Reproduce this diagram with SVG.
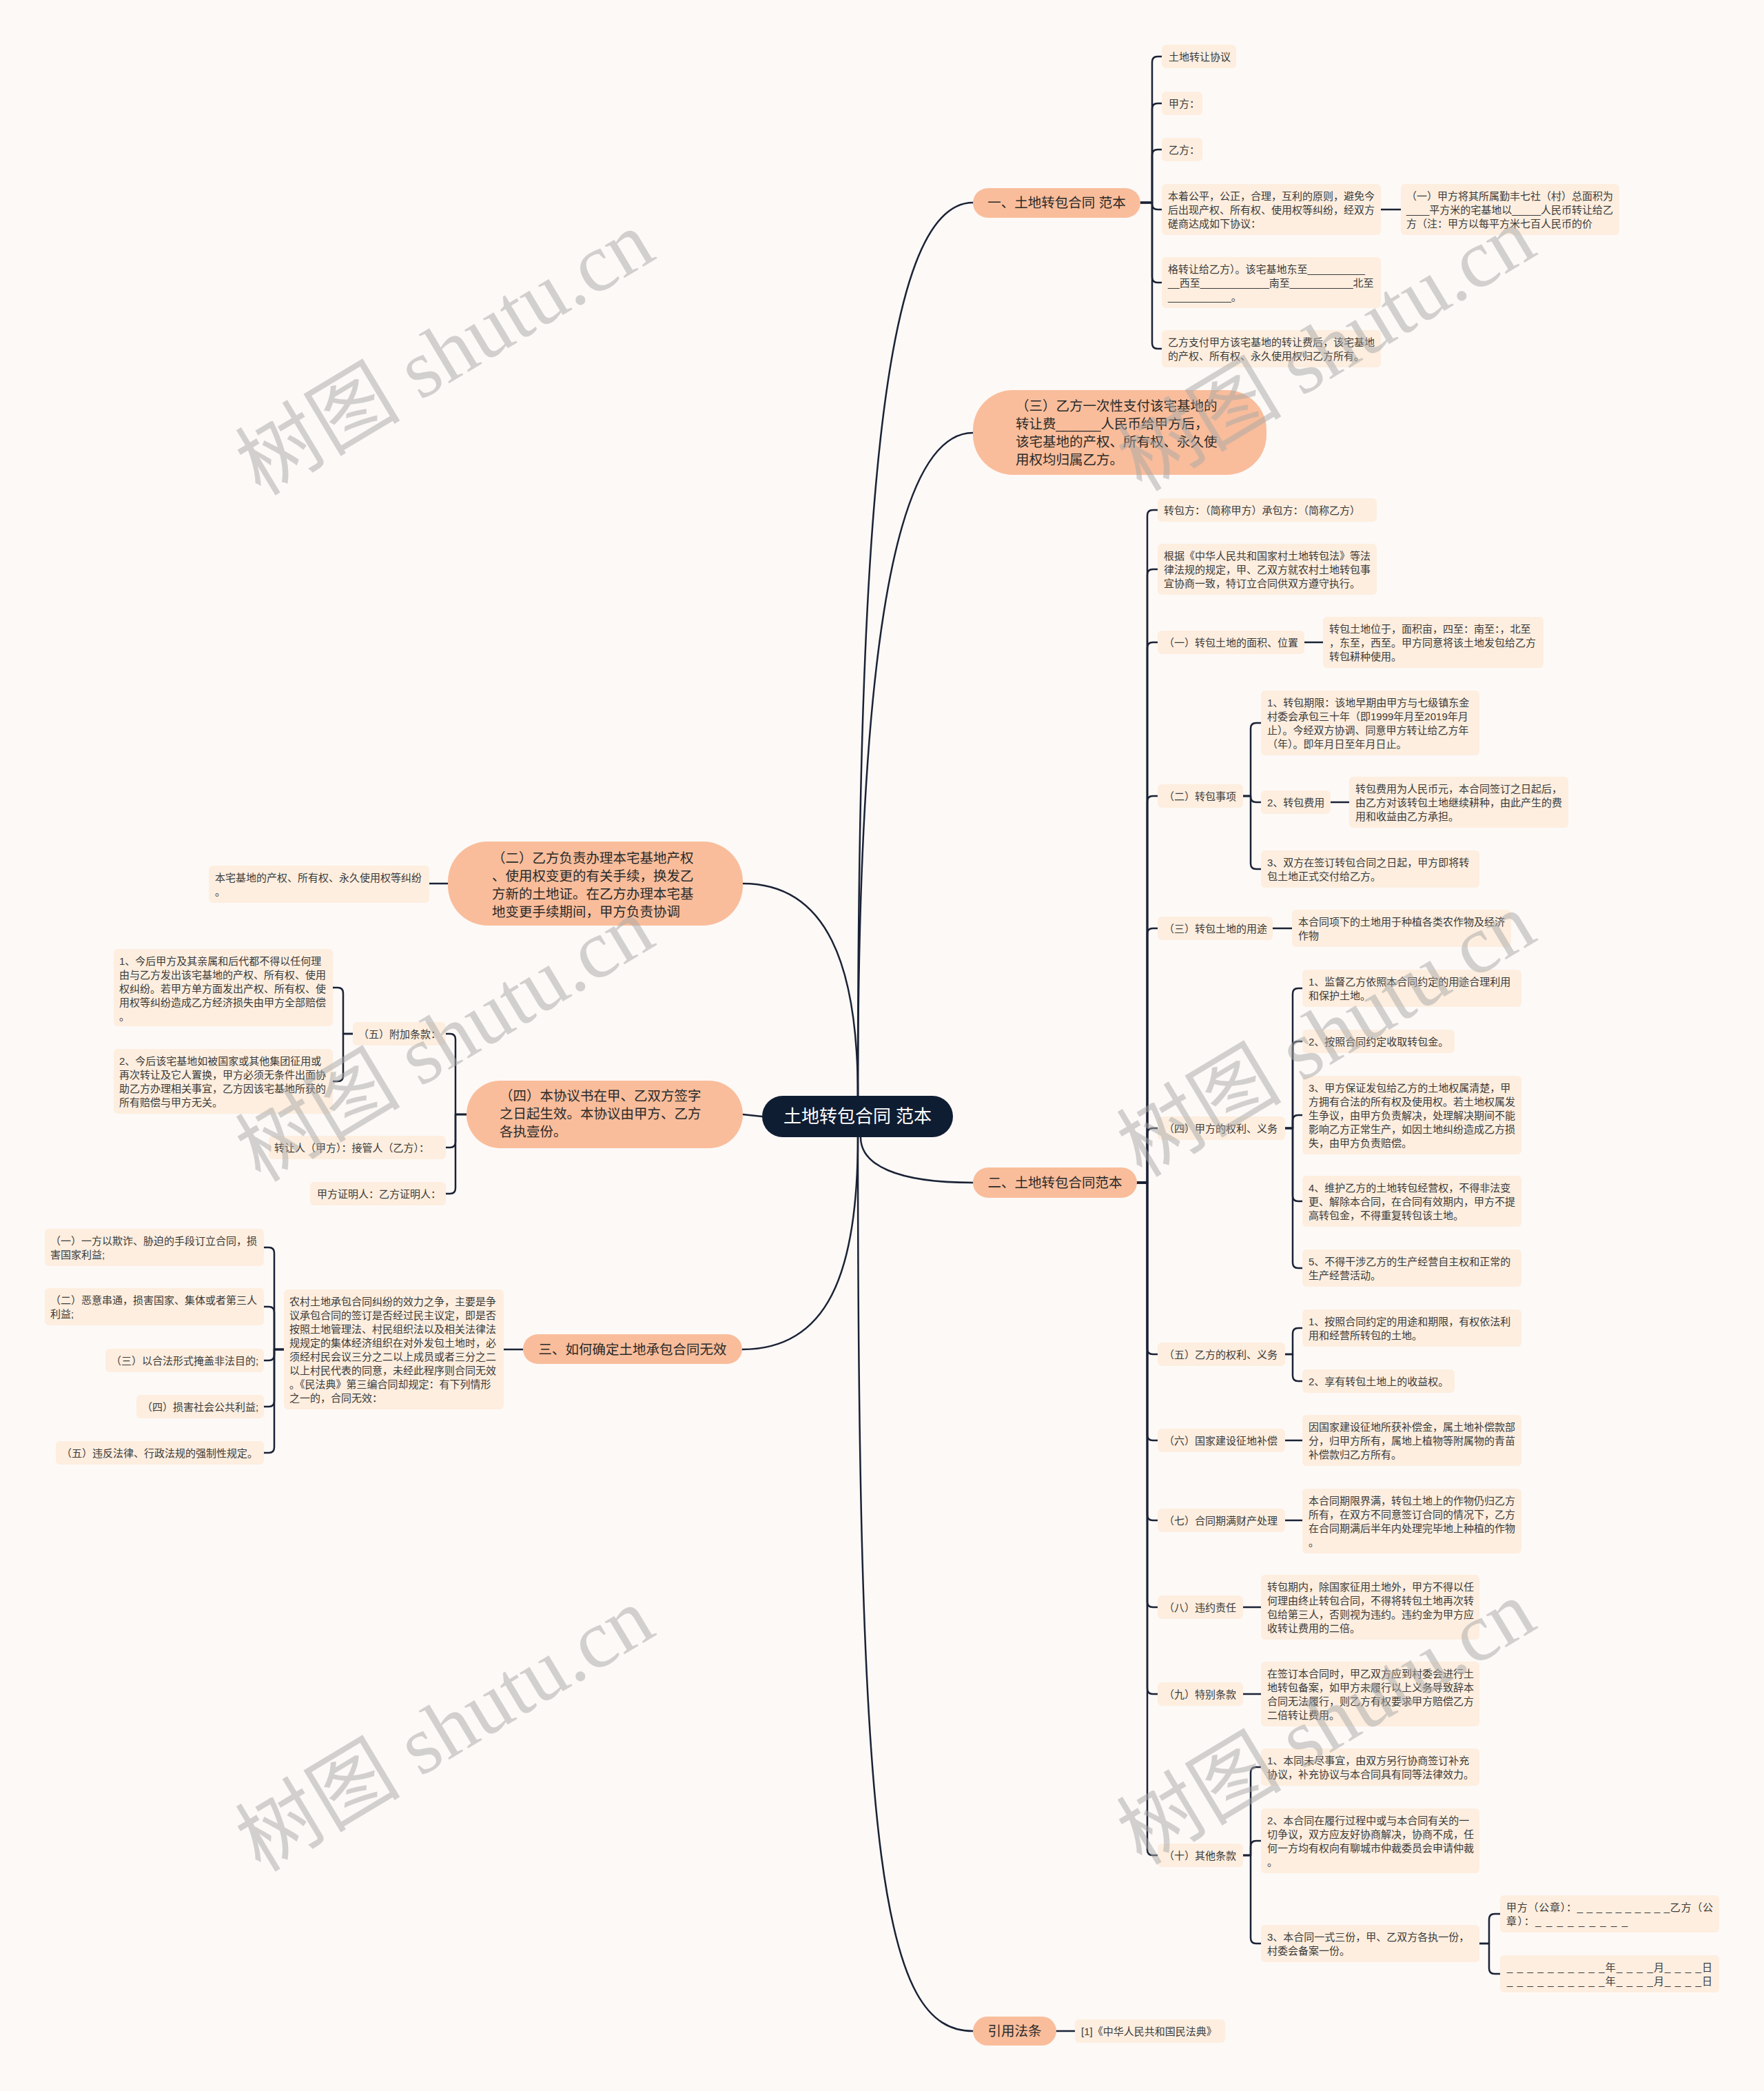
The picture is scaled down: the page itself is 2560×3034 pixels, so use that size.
<svg xmlns="http://www.w3.org/2000/svg" width="2560" height="3034" viewBox="0 0 2560 3034">
<defs>
<style>
.bg{fill:#fdf9f7}
.b2{fill:#fdeedf}
.b1{fill:#f9bd9b}
.b0{fill:#0f1d33}
.t2{font-family:"Liberation Sans","Noto Sans CJK SC",sans-serif;font-size:15px;fill:#3a3a3a}
.t1{font-family:"Liberation Sans","Noto Sans CJK SC",sans-serif;font-size:19.5px;fill:#2a2a2a}
.t0{font-family:"Liberation Sans","Noto Sans CJK SC",sans-serif;font-size:26px;fill:#ffffff}
.c{fill:none;stroke:#1a2235;stroke-width:2.5;stroke-linecap:round;stroke-linejoin:round}
.wm{font-family:"Liberation Serif","Noto Sans CJK SC",serif;font-size:120px;fill:#a8a8a8;fill-opacity:0.5}
</style>
</defs>
<rect class="bg" x="0" y="0" width="2560" height="3034"/>

<g id="connectors">
<!-- root to level 1 -->
<path class="c" d="M1245 1590 C1245 774 1277 294 1412 294"/>
<path class="c" d="M1245 1590 C1245 1000 1290 628 1412 628"/>
<path class="c" d="M1245 1590 C1245 1400 1200 1282 1078 1282"/>
<path class="c" d="M1106 1620 L1078 1617"/>
<path class="c" d="M1245 1650 C1245 1850 1200 1958 1077 1958"/>
<path class="c" d="M1249 1650 C1249 1690 1300 1716 1412 1716"/>
<path class="c" d="M1245 1650 C1245 2700 1280 2947 1412 2947"/>
<!-- R1 bracket -->
<path class="c" d="M1655 294 H1672 V90 Q1672 82 1680 82 H1686"/>
<path class="c" d="M1655 294 H1672 V158 Q1672 150 1680 150 H1686"/>
<path class="c" d="M1655 294 H1672 V225 Q1672 217 1680 217 H1686"/>
<path class="c" d="M1655 294 H1672 V296 Q1672 304 1680 304 H1686"/>
<path class="c" d="M1655 294 H1672 V402 Q1672 410 1680 410 H1686"/>
<path class="c" d="M1655 294 H1672 V498 Q1672 506 1680 506 H1686"/>
<path class="c" d="M2004 304 H2033"/>
<!-- R3 bracket -->
<path class="c" d="M1650 1716 H1665 V748 Q1665 740 1673 740 H1680"/>
<path class="c" d="M1650 1716 H1665 V834 Q1665 826 1673 826 H1680"/>
<path class="c" d="M1650 1716 H1665 V940 Q1665 932 1673 932 H1680"/>
<path class="c" d="M1650 1716 H1665 V1163 Q1665 1155 1673 1155 H1680"/>
<path class="c" d="M1650 1716 H1665 V1355 Q1665 1347 1673 1347 H1680"/>
<path class="c" d="M1650 1716 H1665 V1645 Q1665 1637 1673 1637 H1680"/>
<path class="c" d="M1650 1716 H1665 V1957 Q1665 1965 1673 1965 H1680"/>
<path class="c" d="M1650 1716 H1665 V2082 Q1665 2090 1673 2090 H1680"/>
<path class="c" d="M1650 1716 H1665 V2198 Q1665 2206 1673 2206 H1680"/>
<path class="c" d="M1650 1716 H1665 V2324 Q1665 2332 1673 2332 H1680"/>
<path class="c" d="M1650 1716 H1665 V2450 Q1665 2458 1673 2458 H1680"/>
<path class="c" d="M1650 1716 H1665 V2684 Q1665 2692 1673 2692 H1680"/>
<path class="c" d="M1893 932 H1920"/>
<path class="c" d="M1804 1155 H1815 V1057 Q1815 1049 1823 1049 H1830"/>
<path class="c" d="M1804 1155 H1815 V1156 Q1815 1164 1823 1164 H1830"/>
<path class="c" d="M1804 1155 H1815 V1253 Q1815 1261 1823 1261 H1830"/>
<path class="c" d="M1931 1164 H1958"/>
<path class="c" d="M1847 1347 H1875"/>
<path class="c" d="M1865 1637 H1876 V1442 Q1876 1434 1884 1434 H1890"/>
<path class="c" d="M1865 1637 H1876 V1519 Q1876 1511 1884 1511 H1890"/>
<path class="c" d="M1865 1637 H1876 V1626 Q1876 1618 1884 1618 H1890"/>
<path class="c" d="M1865 1637 H1876 V1735 Q1876 1743 1884 1743 H1890"/>
<path class="c" d="M1865 1637 H1876 V1832 Q1876 1840 1884 1840 H1890"/>
<path class="c" d="M1865 1965 H1876 V1935 Q1876 1927 1884 1927 H1890"/>
<path class="c" d="M1865 1965 H1876 V1996 Q1876 2004 1884 2004 H1890"/>
<path class="c" d="M1865 2090 H1890"/>
<path class="c" d="M1865 2206 H1890"/>
<path class="c" d="M1804 2332 H1830"/>
<path class="c" d="M1804 2458 H1830"/>
<path class="c" d="M1804 2692 H1815 V2572 Q1815 2564 1823 2564 H1830"/>
<path class="c" d="M1804 2692 H1815 V2679 Q1815 2671 1823 2671 H1830"/>
<path class="c" d="M1804 2692 H1815 V2812 Q1815 2820 1823 2820 H1830"/>
<path class="c" d="M2147 2820 H2161 V2785 Q2161 2777 2169 2777 H2177"/>
<path class="c" d="M2147 2820 H2161 V2856 Q2161 2864 2169 2864 H2177"/>
<path class="c" d="M1533 2947 H1560"/>
<!-- left side -->
<path class="c" d="M650 1282 H623"/>
<path class="c" d="M677 1617 H661 V1508 Q661 1500 653 1500 H647"/>
<path class="c" d="M677 1617 H661 V1657 Q661 1665 653 1665 H647"/>
<path class="c" d="M677 1617 H661 V1724 Q661 1732 653 1732 H647"/>
<path class="c" d="M512 1500 H498 V1441 Q498 1433 490 1433 H483"/>
<path class="c" d="M512 1500 H498 V1561 Q498 1569 490 1569 H483"/>
<path class="c" d="M759 1958 H731"/>
<path class="c" d="M412 1958 H398 V1818 Q398 1810 390 1810 H383"/>
<path class="c" d="M412 1958 H398 V1904 Q398 1896 390 1896 H383"/>
<path class="c" d="M412 1958 H398 V1966 Q398 1974 390 1974 H383"/>
<path class="c" d="M412 1958 H398 V2033 Q398 2041 390 2041 H383"/>
<path class="c" d="M412 1958 H398 V2100 Q398 2108 390 2108 H383"/>
</g>

<g id="n-root"><rect class="b0" x="1106" y="1590" width="277" height="60" rx="30"/><text class="t0" x="1244.5" y="1629" text-anchor="middle">土地转包合同 范本</text></g>

<g id="n-r1"><rect class="b1" x="1412" y="273" width="243" height="43" rx="21.5"/><text class="t1" x="1533.5" y="301" text-anchor="middle">一、土地转包合同 范本</text></g>
<g id="n-r1a"><rect class="b2" x="1686" y="65" width="108" height="34" rx="6"/><text class="t2" x="1696" y="88">土地转让协议</text></g>
<g id="n-r1b"><rect class="b2" x="1686" y="133" width="59" height="34" rx="6"/><text class="t2" x="1696" y="156">甲方：</text></g>
<g id="n-r1c"><rect class="b2" x="1686" y="200" width="59" height="34" rx="6"/><text class="t2" x="1696" y="223">乙方：</text></g>
<g id="n-r1d"><rect class="b2" x="1686" y="267" width="318" height="74" rx="6"/><text class="t2"><tspan x="1695" y="290">本着公平，公正，合理，互利的原则，避免今</tspan><tspan x="1695" y="310">后出现产权、所有权、使用权等纠纷，经双方</tspan><tspan x="1695" y="330">磋商达成如下协议：</tspan></text></g>
<g id="n-r1d1"><rect class="b2" x="2033" y="267" width="317" height="74" rx="6"/><text class="t2"><tspan x="2041" y="290">（一）甲方将其所属勤丰七社（村）总面积为</tspan><tspan x="2041" y="310">____平方米的宅基地以_____人民币转让给乙</tspan><tspan x="2041" y="330">方（注：甲方以每平方米七百人民币的价</tspan></text></g>
<g id="n-r1e"><rect class="b2" x="1686" y="373" width="318" height="74" rx="6"/><text class="t2"><tspan x="1695" y="396">格转让给乙方）。该宅基地东至__________</tspan><tspan x="1695" y="416">__西至____________南至___________北至</tspan><tspan x="1695" y="436">___________。</tspan></text></g>
<g id="n-r1f"><rect class="b2" x="1686" y="479" width="318" height="54" rx="6"/><text class="t2"><tspan x="1695" y="502">乙方支付甲方该宅基地的转让费后，该宅基地</tspan><tspan x="1695" y="522">的产权、所有权、永久使用权归乙方所有。</tspan></text></g>

<g id="n-r2"><rect class="b1" x="1412" y="566" width="426" height="123" rx="58"/><text class="t1"><tspan x="1474" y="596">（三）乙方一次性支付该宅基地的</tspan><tspan x="1474" y="622">转让费______人民币给甲方后，</tspan><tspan x="1474" y="648">该宅基地的产权、所有权、永久使</tspan><tspan x="1474" y="674">用权均归属乙方。</tspan></text></g>

<g id="n-r3"><rect class="b1" x="1412" y="1694" width="238" height="44" rx="22"/><text class="t1" x="1531" y="1723" text-anchor="middle">二、土地转包合同范本</text></g>
<g id="n-g"><rect class="b2" x="1680" y="723" width="318" height="34" rx="6"/><text class="t2" x="1689" y="746">转包方：（简称甲方）承包方：（简称乙方）</text></g>
<g id="n-h"><rect class="b2" x="1680" y="789" width="318" height="74" rx="6"/><text class="t2"><tspan x="1689" y="812">根据《中华人民共和国家村土地转包法》等法</tspan><tspan x="1689" y="832">律法规的规定，甲、乙双方就农村土地转包事</tspan><tspan x="1689" y="852">宜协商一致，特订立合同供双方遵守执行。</tspan></text></g>
<g id="n-i"><rect class="b2" x="1680" y="915" width="213" height="34" rx="6"/><text class="t2" x="1689" y="938">（一）转包土地的面积、位置</text></g>
<g id="n-i1"><rect class="b2" x="1920" y="895" width="320" height="74" rx="6"/><text class="t2"><tspan x="1929" y="918">转包土地位于，面积亩，四至：南至：，北至</tspan><tspan x="1929" y="938">，东至，西至。甲方同意将该土地发包给乙方</tspan><tspan x="1929" y="958">转包耕种使用。</tspan></text></g>
<g id="n-j"><rect class="b2" x="1680" y="1138" width="124" height="34" rx="6"/><text class="t2" x="1689" y="1161">（二）转包事项</text></g>
<g id="n-j1"><rect class="b2" x="1830" y="1002" width="317" height="94" rx="6"/><text class="t2"><tspan x="1839" y="1025">1、转包期限：该地早期由甲方与七级镇东金</tspan><tspan x="1839" y="1045">村委会承包三十年（即1999年月至2019年月</tspan><tspan x="1839" y="1065">止）。今经双方协调、同意甲方转让给乙方年</tspan><tspan x="1839" y="1085">（年）。即年月日至年月日止。</tspan></text></g>
<g id="n-j2"><rect class="b2" x="1830" y="1147" width="101" height="34" rx="6"/><text class="t2" x="1839" y="1170">2、转包费用</text></g>
<g id="n-j2a"><rect class="b2" x="1958" y="1127" width="318" height="74" rx="6"/><text class="t2"><tspan x="1967" y="1150">转包费用为人民币元，本合同签订之日起后，</tspan><tspan x="1967" y="1170">由乙方对该转包土地继续耕种，由此产生的费</tspan><tspan x="1967" y="1190">用和收益由乙方承担。</tspan></text></g>
<g id="n-j3"><rect class="b2" x="1830" y="1234" width="317" height="54" rx="6"/><text class="t2"><tspan x="1839" y="1257">3、双方在签订转包合同之日起，甲方即将转</tspan><tspan x="1839" y="1277">包土地正式交付给乙方。</tspan></text></g>
<g id="n-k"><rect class="b2" x="1680" y="1330" width="167" height="34" rx="6"/><text class="t2" x="1689" y="1353">（三）转包土地的用途</text></g>
<g id="n-k1"><rect class="b2" x="1875" y="1320" width="318" height="54" rx="6"/><text class="t2"><tspan x="1884" y="1343">本合同项下的土地用于种植各类农作物及经济</tspan><tspan x="1884" y="1363">作物</tspan></text></g>
<g id="n-l"><rect class="b2" x="1680" y="1620" width="185" height="34" rx="6"/><text class="t2" x="1689" y="1643">（四）甲方的权利、义务</text></g>
<g id="n-l1"><rect class="b2" x="1890" y="1407" width="318" height="54" rx="6"/><text class="t2"><tspan x="1899" y="1430">1、监督乙方依照本合同约定的用途合理利用</tspan><tspan x="1899" y="1450">和保护土地。</tspan></text></g>
<g id="n-l2"><rect class="b2" x="1890" y="1494" width="221" height="34" rx="6"/><text class="t2" x="1899" y="1517">2、按照合同约定收取转包金。</text></g>
<g id="n-l3"><rect class="b2" x="1890" y="1561" width="318" height="114" rx="6"/><text class="t2"><tspan x="1899" y="1584">3、甲方保证发包给乙方的土地权属清楚，甲</tspan><tspan x="1899" y="1604">方拥有合法的所有权及使用权。若土地权属发</tspan><tspan x="1899" y="1624">生争议，由甲方负责解决，处理解决期间不能</tspan><tspan x="1899" y="1644">影响乙方正常生产，如因土地纠纷造成乙方损</tspan><tspan x="1899" y="1664">失，由甲方负责赔偿。</tspan></text></g>
<g id="n-l4"><rect class="b2" x="1890" y="1706" width="318" height="74" rx="6"/><text class="t2"><tspan x="1899" y="1729">4、维护乙方的土地转包经营权，不得非法变</tspan><tspan x="1899" y="1749">更、解除本合同，在合同有效期内，甲方不提</tspan><tspan x="1899" y="1769">高转包金，不得重复转包该土地。</tspan></text></g>
<g id="n-l5"><rect class="b2" x="1890" y="1813" width="318" height="54" rx="6"/><text class="t2"><tspan x="1899" y="1836">5、不得干涉乙方的生产经营自主权和正常的</tspan><tspan x="1899" y="1856">生产经营活动。</tspan></text></g>
<g id="n-m"><rect class="b2" x="1680" y="1948" width="185" height="34" rx="6"/><text class="t2" x="1689" y="1971">（五）乙方的权利、义务</text></g>
<g id="n-m1"><rect class="b2" x="1890" y="1900" width="318" height="54" rx="6"/><text class="t2"><tspan x="1899" y="1923">1、按照合同约定的用途和期限，有权依法利</tspan><tspan x="1899" y="1943">用和经营所转包的土地。</tspan></text></g>
<g id="n-m2"><rect class="b2" x="1890" y="1987" width="221" height="34" rx="6"/><text class="t2" x="1899" y="2010">2、享有转包土地上的收益权。</text></g>
<g id="n-n"><rect class="b2" x="1680" y="2073" width="185" height="34" rx="6"/><text class="t2" x="1689" y="2096">（六）国家建设征地补偿</text></g>
<g id="n-n1"><rect class="b2" x="1890" y="2053" width="318" height="74" rx="6"/><text class="t2"><tspan x="1899" y="2076">因国家建设征地所获补偿金，属土地补偿款部</tspan><tspan x="1899" y="2096">分，归甲方所有，属地上植物等附属物的青苗</tspan><tspan x="1899" y="2116">补偿款归乙方所有。</tspan></text></g>
<g id="n-o"><rect class="b2" x="1680" y="2189" width="185" height="34" rx="6"/><text class="t2" x="1689" y="2212">（七）合同期满财产处理</text></g>
<g id="n-o1"><rect class="b2" x="1890" y="2160" width="318" height="94" rx="6"/><text class="t2"><tspan x="1899" y="2183">本合同期限界满，转包土地上的作物仍归乙方</tspan><tspan x="1899" y="2203">所有，在双方不同意签订合同的情况下，乙方</tspan><tspan x="1899" y="2223">在合同期满后半年内处理完毕地上种植的作物</tspan><tspan x="1899" y="2243">。</tspan></text></g>
<g id="n-p"><rect class="b2" x="1680" y="2315" width="124" height="34" rx="6"/><text class="t2" x="1689" y="2338">（八）违约责任</text></g>
<g id="n-p1"><rect class="b2" x="1830" y="2285" width="317" height="94" rx="6"/><text class="t2"><tspan x="1839" y="2308">转包期内，除国家征用土地外，甲方不得以任</tspan><tspan x="1839" y="2328">何理由终止转包合同，不得将转包土地再次转</tspan><tspan x="1839" y="2348">包给第三人，否则视为违约。违约金为甲方应</tspan><tspan x="1839" y="2368">收转让费用的二倍。</tspan></text></g>
<g id="n-q"><rect class="b2" x="1680" y="2441" width="124" height="34" rx="6"/><text class="t2" x="1689" y="2464">（九）特别条款</text></g>
<g id="n-q1"><rect class="b2" x="1830" y="2411" width="317" height="94" rx="6"/><text class="t2"><tspan x="1839" y="2434">在签订本合同时，甲乙双方应到村委会进行土</tspan><tspan x="1839" y="2454">地转包备案，如甲方未履行以上义务导致辞本</tspan><tspan x="1839" y="2474">合同无法履行，则乙方有权要求甲方赔偿乙方</tspan><tspan x="1839" y="2494">二倍转让费用。</tspan></text></g>
<g id="n-r"><rect class="b2" x="1680" y="2675" width="124" height="34" rx="6"/><text class="t2" x="1689" y="2698">（十）其他条款</text></g>
<g id="n-r1x"><rect class="b2" x="1830" y="2537" width="317" height="54" rx="6"/><text class="t2"><tspan x="1839" y="2560">1、本同未尽事宜，由双方另行协商签订补充</tspan><tspan x="1839" y="2580">协议，补充协议与本合同具有同等法律效力。</tspan></text></g>
<g id="n-r2x"><rect class="b2" x="1830" y="2624" width="317" height="94" rx="6"/><text class="t2"><tspan x="1839" y="2647">2、本合同在履行过程中或与本合同有关的一</tspan><tspan x="1839" y="2667">切争议，双方应友好协商解决，协商不成，任</tspan><tspan x="1839" y="2687">何一方均有权向有聊城市仲裁委员会申请仲裁</tspan><tspan x="1839" y="2707">。</tspan></text></g>
<g id="n-r3x"><rect class="b2" x="1830" y="2793" width="317" height="54" rx="6"/><text class="t2"><tspan x="1839" y="2816">3、本合同一式三份，甲、乙双方各执一份，</tspan><tspan x="1839" y="2836">村委会备案一份。</tspan></text></g>
<g id="n-r3a"><rect class="b2" x="2177" y="2750" width="318" height="54" rx="6"/><text class="t2"><tspan x="2186" y="2773" textLength="300" lengthAdjust="spacing">甲方（公章）：_ _ _ _ _ _ _ _ _ _乙方（公</tspan><tspan x="2186" y="2793" textLength="176" lengthAdjust="spacing">章）：_ _ _ _ _ _ _ _ _</tspan></text></g>
<g id="n-r3b"><rect class="b2" x="2177" y="2837" width="318" height="54" rx="6"/><text class="t2"><tspan x="2187" y="2860" textLength="298" lengthAdjust="spacing">_ _ _ _ _ _ _ _ _ _年_ _ _ _月_ _ _ _日</tspan><tspan x="2187" y="2880" textLength="298" lengthAdjust="spacing">_ _ _ _ _ _ _ _ _ _年_ _ _ _月_ _ _ _日</tspan></text></g>

<g id="n-r4"><rect class="b1" x="1412" y="2926" width="121" height="42" rx="21"/><text class="t1" x="1472.5" y="2954" text-anchor="middle">引用法条</text></g>
<g id="n-r4a"><rect class="b2" x="1560" y="2930" width="218" height="34" rx="6"/><text class="t2" x="1569" y="2953">[1]《中华人民共和国民法典》</text></g>

<g id="n-l1n"><rect class="b1" x="650" y="1221" width="428" height="122" rx="58"/><text class="t1"><tspan x="714" y="1252">（二）乙方负责办理本宅基地产权</tspan><tspan x="714" y="1278">、使用权变更的有关手续，换发乙</tspan><tspan x="714" y="1304">方新的土地证。在乙方办理本宅基</tspan><tspan x="714" y="1330">地变更手续期间，甲方负责协调</tspan></text></g>
<g id="n-l1a"><rect class="b2" x="303" y="1256" width="320" height="54" rx="6"/><text class="t2"><tspan x="312" y="1279">本宅基地的产权、所有权、永久使用权等纠纷</tspan><tspan x="312" y="1299">。</tspan></text></g>

<g id="n-l2n"><rect class="b1" x="677" y="1568" width="401" height="98" rx="49"/><text class="t1"><tspan x="725" y="1597">（四）本协议书在甲、乙双方签字</tspan><tspan x="725" y="1623">之日起生效。本协议由甲方、乙方</tspan><tspan x="725" y="1649">各执壹份。</tspan></text></g>
<g id="n-l2a"><rect class="b2" x="512" y="1483" width="135" height="34" rx="6"/><text class="t2" x="520" y="1506">（五）附加条款：</text></g>
<g id="n-l2a1"><rect class="b2" x="165" y="1377" width="318" height="112" rx="6"/><text class="t2"><tspan x="173" y="1400">1、今后甲方及其亲属和后代都不得以任何理</tspan><tspan x="173" y="1420">由与乙方发出该宅基地的产权、所有权、使用</tspan><tspan x="173" y="1440">权纠纷。若甲方单方面发出产权、所有权、使</tspan><tspan x="173" y="1460">用权等纠纷造成乙方经济损失由甲方全部赔偿</tspan><tspan x="173" y="1480">。</tspan></text></g>
<g id="n-l2a2"><rect class="b2" x="165" y="1522" width="318" height="94" rx="6"/><text class="t2"><tspan x="173" y="1545">2、今后该宅基地如被国家或其他集团征用或</tspan><tspan x="173" y="1565">再次转让及它人置换，甲方必须无条件出面协</tspan><tspan x="173" y="1585">助乙方办理相关事宜，乙方因该宅基地所获的</tspan><tspan x="173" y="1605">所有赔偿与甲方无关。</tspan></text></g>
<g id="n-l2b"><rect class="b2" x="390" y="1648" width="257" height="34" rx="6"/><text class="t2" x="398" y="1671">转让人（甲方）：接管人（乙方）：</text></g>
<g id="n-l2c"><rect class="b2" x="450" y="1715" width="197" height="34" rx="6"/><text class="t2" x="460" y="1738">甲方证明人：乙方证明人：</text></g>

<g id="n-l3n"><rect class="b1" x="759" y="1936" width="318" height="43" rx="21.5"/><text class="t1" x="918" y="1965" text-anchor="middle">三、如何确定土地承包合同无效</text></g>
<g id="n-l3a"><rect class="b2" x="412" y="1871" width="319" height="174" rx="6"/><text class="t2"><tspan x="420" y="1894">农村土地承包合同纠纷的效力之争，主要是争</tspan><tspan x="420" y="1914">议承包合同的签订是否经过民主议定，即是否</tspan><tspan x="420" y="1934">按照土地管理法、村民组织法以及相关法律法</tspan><tspan x="420" y="1954">规规定的集体经济组织在对外发包土地时，必</tspan><tspan x="420" y="1974">须经村民会议三分之二以上成员或者三分之二</tspan><tspan x="420" y="1994">以上村民代表的同意，未经此程序则合同无效</tspan><tspan x="420" y="2014">。《民法典》第三编合同却规定：有下列情形</tspan><tspan x="420" y="2034">之一的，合同无效：</tspan></text></g>
<g id="n-c1"><rect class="b2" x="65" y="1783" width="318" height="54" rx="6"/><text class="t2"><tspan x="73" y="1806">（一）一方以欺诈、胁迫的手段订立合同，损</tspan><tspan x="73" y="1826">害国家利益;</tspan></text></g>
<g id="n-c2"><rect class="b2" x="65" y="1869" width="318" height="54" rx="6"/><text class="t2"><tspan x="73" y="1892">（二）恶意串通，损害国家、集体或者第三人</tspan><tspan x="73" y="1912">利益;</tspan></text></g>
<g id="n-c3"><rect class="b2" x="153" y="1957" width="230" height="34" rx="6"/><text class="t2" x="161" y="1980">（三）以合法形式掩盖非法目的;</text></g>
<g id="n-c4"><rect class="b2" x="198" y="2024" width="185" height="34" rx="6"/><text class="t2" x="206" y="2047">（四）损害社会公共利益;</text></g>
<g id="n-c5"><rect class="b2" x="81" y="2091" width="302" height="34" rx="6"/><text class="t2" x="89" y="2114">（五）违反法律、行政法规的强制性规定。</text></g>

<g id="watermarks">
<text class="wm" transform="translate(646 513) rotate(-31)" text-anchor="middle" dy="40">树图 shutu.cn</text>
<text class="wm" transform="translate(1925 507) rotate(-31)" text-anchor="middle" dy="40">树图 shutu.cn</text>
<text class="wm" transform="translate(646 1509) rotate(-31)" text-anchor="middle" dy="40">树图 shutu.cn</text>
<text class="wm" transform="translate(1925 1502) rotate(-31)" text-anchor="middle" dy="40">树图 shutu.cn</text>
<text class="wm" transform="translate(646 2510) rotate(-31)" text-anchor="middle" dy="40">树图 shutu.cn</text>
<text class="wm" transform="translate(1925 2500) rotate(-31)" text-anchor="middle" dy="40">树图 shutu.cn</text>
</g>
</svg>
